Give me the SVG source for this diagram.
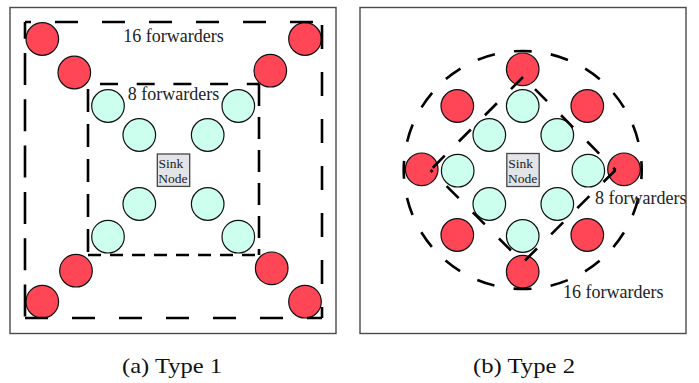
<svg xmlns="http://www.w3.org/2000/svg" width="699" height="383" viewBox="0 0 699 383">
<style>
.panel{fill:#fff;stroke:#4a4a4a;stroke-width:1.4}
.red{fill:#FF4656;stroke:#111;stroke-width:1.2}
.mint{fill:#CCFFEE;stroke:#111;stroke-width:1.2}
.sink{fill:#E2E4E7;stroke:#444;stroke-width:1.3}
.dash{fill:none;stroke:#000;stroke-width:2.6}
.lbl{font-family:"Liberation Serif","Times New Roman",serif;font-size:18px;fill:#222}
.sl{font-family:"Liberation Serif","Times New Roman",serif;font-size:13.5px;fill:#222}
.cap{font-family:"Liberation Serif","Times New Roman",serif;font-size:22px;fill:#111}
</style>
<rect width="699" height="383" fill="#fff"/>
<g id="panel-a">
<rect class="panel" x="10" y="7.5" width="326" height="326"/>
</g>
<g id="panel-b">
<rect class="panel" x="360" y="7.5" width="326" height="326"/>
</g>
<g id="nodes-a">
<g id="a-red"><circle class="red" cx="42.3" cy="39" r="16.3"/><circle class="red" cx="74.3" cy="72.5" r="16.3"/><circle class="red" cx="305" cy="39" r="16.3"/><circle class="red" cx="270.3" cy="70.7" r="16.3"/><circle class="red" cx="76" cy="270.7" r="16.3"/><circle class="red" cx="42.3" cy="301.7" r="16.3"/><circle class="red" cx="271.7" cy="268.3" r="16.3"/><circle class="red" cx="305" cy="301.7" r="16.3"/></g>
<g id="a-mint"><circle class="mint" cx="108" cy="106" r="16.3"/><circle class="mint" cx="139.3" cy="135" r="16.3"/><circle class="mint" cx="238.3" cy="106" r="16.3"/><circle class="mint" cx="207.7" cy="135" r="16.3"/><circle class="mint" cx="139.3" cy="204" r="16.3"/><circle class="mint" cx="108" cy="236.7" r="16.3"/><circle class="mint" cx="207.7" cy="204" r="16.3"/><circle class="mint" cx="238.3" cy="236.7" r="16.3"/></g>
<g id="a-sink"><rect class="sink" x="157.3" y="154" width="32.4" height="32.4"/><text class="sl" x="158.5" y="168.3">Sink</text><text class="sl" x="158.2" y="182.8">Node</text></g>
</g>
<g id="nodes-b">
<g id="b-red"><circle class="red" cx="522.7" cy="69.3" r="16.3"/><circle class="red" cx="421.7" cy="169.3" r="16.3"/><circle class="red" cx="624" cy="169.3" r="16.3"/><circle class="red" cx="522.7" cy="271.7" r="16.3"/><circle class="red" cx="457.3" cy="106" r="16.3"/><circle class="red" cx="587.3" cy="106" r="16.3"/><circle class="red" cx="457.3" cy="235" r="16.3"/><circle class="red" cx="587.3" cy="235" r="16.3"/></g>
<g id="b-mint"><circle class="mint" cx="522.7" cy="106" r="16.3"/><circle class="mint" cx="457.7" cy="170.7" r="16.3"/><circle class="mint" cx="588.3" cy="170.7" r="16.3"/><circle class="mint" cx="522.7" cy="236" r="16.3"/><circle class="mint" cx="489.3" cy="135" r="16.3"/><circle class="mint" cx="557.3" cy="135" r="16.3"/><circle class="mint" cx="489.3" cy="204" r="16.3"/><circle class="mint" cx="557.3" cy="204" r="16.3"/></g>
<g id="b-sink"><rect class="sink" x="506.8" y="153.5" width="32.4" height="33"/><text class="sl" x="508.3" y="168.3">Sink</text><text class="sl" x="507.9" y="182.8">Node</text></g>
</g>
<g id="connectors">
<g id="a-outer">
<path class="dash" d="M25,22 H322" stroke-dasharray="23 24" stroke-dashoffset="17"/>
<path class="dash" d="M322,22 V318" stroke-dasharray="24 23" stroke-dashoffset="-3"/>
<path class="dash" d="M25,318 H322" stroke-dasharray="23 24"/>
<path class="dash" d="M25,22 V318" stroke-dasharray="32 14.3" stroke-dashoffset="15.3"/>
</g>
<g id="a-inner">
<path class="dash" d="M88,84 H259" stroke-dasharray="18 18.7" stroke-dashoffset="-12"/>
<path class="dash" d="M259,84 V255" stroke-dasharray="22 11"/>
<path class="dash" d="M88,255 H259" stroke-dasharray="13 9"/>
<path class="dash" d="M88,84 V255" stroke-dasharray="23 12" stroke-dashoffset="-5"/>
</g>
<g id="b-outer">
<path class="dash" d="M522.7,51 A119,119 0 1,1 522.7,289 A119,119 0 1,1 522.7,51" stroke-dasharray="18 19.385" stroke-dashoffset="9"/>
</g>
<g id="b-inner">
<path class="dash" d="M523,77 L430.5,170" stroke-dasharray="17 20"/>
<path class="dash" d="M615.5,170 L523,262.5" stroke-dasharray="17 20"/>
<path class="dash" d="M523,77 L615.5,170" stroke-dasharray="17 20" stroke-dashoffset="20"/>
<path class="dash" d="M523,262.5 L430.5,170" stroke-dasharray="17 20" stroke-dashoffset="20"/>
</g>
</g>
<g id="labels">
<text class="lbl" x="173.5" y="42" text-anchor="middle">16 forwarders</text>
<text class="lbl" x="173.5" y="99.5" text-anchor="middle">8 forwarders</text>
<text class="lbl" x="595" y="204">8 forwarders</text>
<text class="lbl" x="563" y="298">16 forwarders</text>
<text class="cap" x="122" y="373" textLength="100" lengthAdjust="spacingAndGlyphs">(a) Type 1</text>
<text class="cap" x="473" y="373" textLength="102" lengthAdjust="spacingAndGlyphs">(b) Type 2</text>
</g>
</svg>
